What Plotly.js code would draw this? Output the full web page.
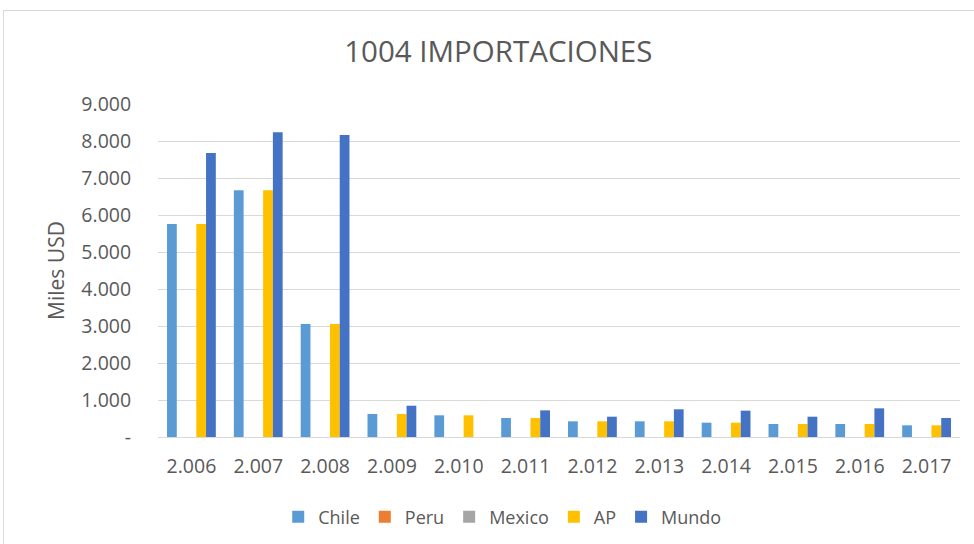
<!DOCTYPE html>
<html><head><meta charset="utf-8">
<script src="https://cdn.plot.ly/plotly-3.0.1.min.js"></script>
<style>
html,body{margin:0;padding:0;background:#fff;overflow:hidden;}
#chart{position:absolute;left:3px;top:10px;width:975px;height:540px;border:1px solid #d9d9d9;}
</style></head>
<body><div id="chart"></div>
<script>
const years = ["2.006","2.007","2.008","2.009","2.010","2.011","2.012","2.013","2.014","2.015","2.016","2.017"];
const chile = [5757,6667,3054,622,586,513,424,424,387,351,351,316];
const peru = [0,0,0,0,0,0,0,0,0,0,0,0];
const mexico = [0,0,0,0,0,0,0,0,0,0,0,0];
const ap = [5757,6667,3054,622,586,513,424,424,387,351,351,316];
const mundo = [7676,8235,8162,846,0,720,549,749,712,549,775,513];
const yTickVals = [0,1000,2000,3000,4000,5000,6000,7000,8000,9000];
const yTickText = ["-","1.000","2.000","3.000","4.000","5.000","6.000","7.000","8.000","9.000"];

const series = [
  {name:"Chile", y:chile, color:"#5B9BD5"},
  {name:"Peru", y:peru, color:"#ED7D31"},
  {name:"Mexico", y:mexico, color:"#A5A5A5"},
  {name:"AP", y:ap, color:"#FFC000"},
  {name:"Mundo", y:mundo, color:"#4472C4"}
];
const traces = series.map(s => ({
  type:"bar", name:s.name, x:years, y:s.y,
  marker:{color:s.color}, hoverinfo:"x+y+name"
}));
const grey = "#595959";
const layout = {
  width:975, height:540,
  margin:{l:154, r:19, t:93, b:114},
  paper_bgcolor:"#fff", plot_bgcolor:"#fff",
  barmode:"group", bargap:0.27, bargroupgap:0,
  title:{text:"1004 IMPORTACIONES", font:{family:"Open Sans, sans-serif", size:29.5, color:grey}, x:0.507, xanchor:"center", y:0.925, yanchor:"middle"},
  font:{family:"Open Sans, sans-serif", color:grey},
  xaxis:{type:"category", tickfont:{size:19.5, color:grey}, ticks:"outside", ticklen:12, tickcolor:"rgba(0,0,0,0)",
         showline:false, showgrid:false, zeroline:false},
  yaxis:{range:[0,9000], tickvals:yTickVals, ticktext:yTickText, tickfont:{size:19.5, color:grey},
         ticks:"outside", ticklen:22, tickcolor:"rgba(0,0,0,0)",
         gridcolor:"#d9d9d9", gridwidth:1, zeroline:true, zerolinecolor:"#d9d9d9", zerolinewidth:1, showline:false,
         title:{text:"Miles USD", font:{size:21, color:grey}, standoff:11}},
  legend:{orientation:"h", xref:"container", yref:"container", x:0.511, xanchor:"center", y:0.063, yanchor:"middle",
          font:{size:18, color:grey}, traceorder:"normal"},
  showlegend:true
};
Plotly.newPlot("chart", traces, layout, {displayModeBar:false, staticPlot:true});
</script></body></html>
